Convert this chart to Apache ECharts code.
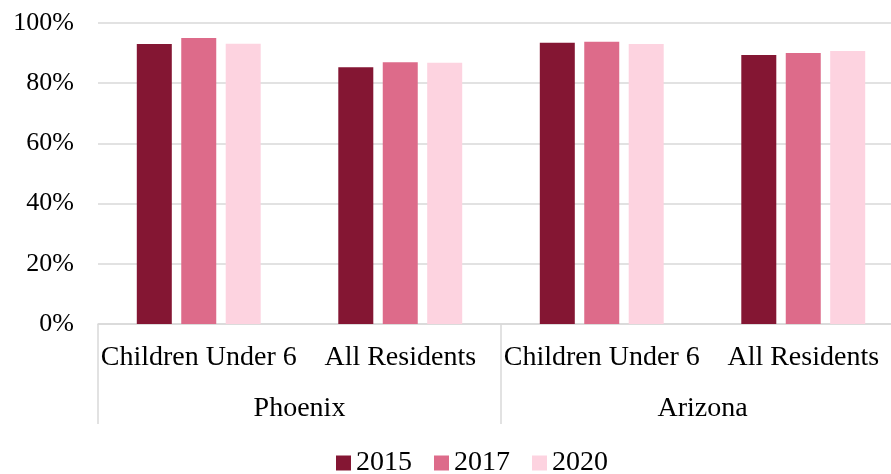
<!DOCTYPE html>
<html>
<head>
<meta charset="utf-8">
<script src="https://cdn.jsdelivr.net/npm/echarts@6/dist/echarts.min.js"></script>
<style>
  html, body { margin: 0; padding: 0; background: #fff; }
  #chart { width: 891px; height: 474px; }
</style>
</head>
<body>
<div id="chart"></div>
<script>
// Subgroups along the inner axis, regions along the outer axis
const categories = ['Children Under 6', 'All Residents', 'Children Under 6', 'All Residents'];
const regions = ['Phoenix', 'Arizona'];
const years = ['2015', '2017', '2020'];

// Percent of residents, per year
const values2015 = [93.0, 85.3, 93.4, 89.4];
const values2017 = [95.0, 87.0, 93.8, 90.0];
const values2020 = [93.1, 86.8, 93.0, 90.7];

const yTicks = [0, 20, 40, 60, 80, 100];

const colors = ['#841633', '#DD6B8A', '#FDD3E0'];
const serif = '"Liberation Serif", "Times New Roman", serif';
const gridColor = '#D9D9D9';

const chart = echarts.init(document.getElementById('chart'), null, { renderer: 'canvas' });

// The plot area runs past the right edge of the canvas
const gridRect = { left: 98, top: 23, width: 806, height: 301, outerBoundsMode: 'none', containLabel: false };

chart.setOption({
  animation: false,
  color: colors,
  textStyle: { fontFamily: serif },
  grid: [
    Object.assign({}, gridRect),
    Object.assign({}, gridRect)
  ],
  legend: {
    data: years,
    top: 444,
    left: 331,
    icon: 'rect',
    itemWidth: 15,
    itemHeight: 15,
    itemGap: 22,
    textStyle: { fontFamily: serif, fontSize: 28, color: '#000' }
  },
  xAxis: [
    {
      type: 'category',
      gridIndex: 0,
      data: categories,
      axisLine: { show: true, lineStyle: { color: gridColor, width: 1.5 } },
      axisTick: { show: false },
      axisLabel: { interval: 0, margin: 20, fontFamily: serif, fontSize: 28, color: '#000' }
    },
    {
      type: 'category',
      gridIndex: 1,
      position: 'bottom',
      data: regions,
      axisLine: { show: false },
      axisTick: { show: true, length: 100, interval: 0, lineStyle: { color: gridColor, width: 1.5 } },
      axisLabel: { interval: 0, margin: 71, fontFamily: serif, fontSize: 28, color: '#000' }
    }
  ],
  yAxis: [
    {
      type: 'value',
      gridIndex: 0,
      min: yTicks[0],
      max: yTicks[yTicks.length - 1],
      interval: yTicks[1] - yTicks[0],
      axisLine: { show: false },
      axisTick: { show: false },
      splitLine: { lineStyle: { color: gridColor, width: 1.5 } },
      axisLabel: { margin: 24, fontFamily: serif, fontSize: 26, color: '#000', formatter: '{value}%' }
    },
    {
      type: 'value',
      gridIndex: 1,
      min: 0,
      max: 100,
      show: false,
      splitLine: { show: false }
    }
  ],
  series: [
    { name: years[0], type: 'bar', xAxisIndex: 0, yAxisIndex: 0, data: values2015, barWidth: 35, barGap: '27%' },
    { name: years[1], type: 'bar', xAxisIndex: 0, yAxisIndex: 0, data: values2017, barWidth: 35, barGap: '27%' },
    { name: years[2], type: 'bar', xAxisIndex: 0, yAxisIndex: 0, data: values2020, barWidth: 35, barGap: '27%' }
  ]
});
</script>
</body>
</html>
